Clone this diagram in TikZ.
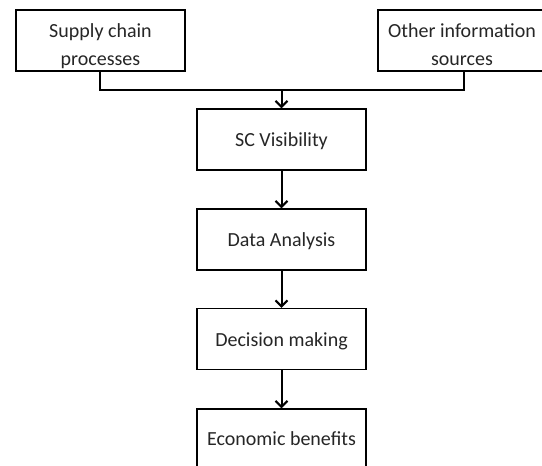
\documentclass[tikz,border=0pt]{standalone}
\usepackage{fontspec}
\setmainfont{Carlito}
\usetikzlibrary{arrows.meta}
\begin{document}
\begin{tikzpicture}[x=1pt,y=-1pt,
  box/.style={draw=black,line width=1.4pt,fill=white,inner sep=0pt,align=center,
    font=\fontsize{20}{28}\selectfont,text=black!85,minimum width=169pt,minimum height=61pt},
  onel/.style={text height=14pt,text depth=0pt},
  twol/.style={text height=49pt,text depth=0pt},
  conn/.style={line width=2pt,draw=black},
  arr/.style={conn,-{Straight Barb[length=6pt,width=12pt,line width=2pt]}}]
\useasboundingbox (0,0) rectangle (542,466);
\clip (0,0) rectangle (542,466);
\node[box,twol] (sc) at (100.5,40.5) {Supply chain\\processes};
\node[box,twol,minimum width=168pt] (oi) at (462,40.5) {Other information\\sources};
\node[box,onel] (vis) at (281.5,139.5) {SC Visibility};
\node[box,onel] (da) at (281.5,239.5) {Data Analysis};
\node[box,onel] (dm) at (281.5,339) {Decision making};
\node[box,onel,minimum height=75pt] (eb) at (281.5,446.5) {};
\node[font=\fontsize{20}{28}\selectfont,text=black!85,anchor=base] (ebt) at (281.5,445) {Economic benefits};
\coordinate (j) at (281.5,90);
\draw[conn] (sc.south -| 100,0) |- (j);
\draw[conn] (oi.south -| 464,0) |- (j);
\draw[arr] (j) -- (vis.north);
\draw[arr] (vis) -- (da);
\draw[arr] (da) -- (dm);
\draw[arr] (dm) -- (eb);
\end{tikzpicture}
\end{document}
